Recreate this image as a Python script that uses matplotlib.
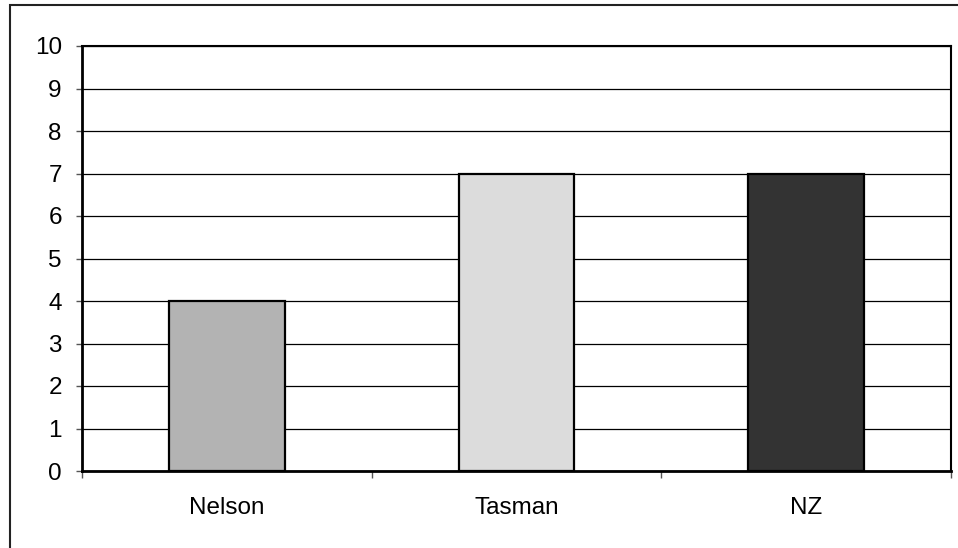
"""Bar chart: Nelson / Tasman / NZ."""
import matplotlib
matplotlib.use('Agg')
import matplotlib.pyplot as plt
import matplotlib.patches as mpatches

categories = ["Nelson", "Tasman", "NZ"]
values = [4, 7, 7]
bar_colors = ["#b3b3b3", "#dcdcdc", "#333333"]
y_ticks = list(range(0, 11))

plt.rcParams['font.family'] = ['Liberation Sans', 'DejaVu Sans']

W, H = 958, 548
fig = plt.figure(figsize=(W / 100, H / 100), dpi=100)
fig.patch.set_facecolor('white')

# outer chart border (runs off right/bottom edges)
fig.patches.append(mpatches.Rectangle((10 / W, -0.05), 1.1, 1 - 5 / H + 0.05,
                                      transform=fig.transFigure, fill=False,
                                      edgecolor='#222222', linewidth=1.5))

ax = fig.add_axes([82 / W, 1 - 471 / H, (951 - 82) / W, (471 - 46) / H])
x = range(len(categories))
ax.bar(x, values, width=0.40, color=bar_colors, edgecolor='black',
       linewidth=1.6, zorder=3)

ax.set_xlim(-0.5, len(categories) - 0.5)
ax.set_ylim(0, 10)
ax.set_yticks(y_ticks)
ax.set_yticklabels([str(t) for t in y_ticks], fontsize=17.5)
ax.yaxis.grid(True, color='black', linewidth=0.9, zorder=0)
ax.set_axisbelow(True)

# category labels centred, ticks at boundaries
ax.set_xticks([i + 0.5 for i in range(-1, len(categories))])
ax.set_xticklabels([])
ax.set_xticks(list(x), minor=True)
ax.set_xticklabels(categories, minor=True, fontsize=17.5)
ax.tick_params(axis='x', which='minor', length=0, pad=19)
ax.tick_params(axis='x', which='major', length=5, width=1, color='#555555')
ax.tick_params(axis='y', length=4.5, width=1, color='#555555', pad=10)

for s in ax.spines.values():
    s.set_color('black')
    s.set_linewidth(1.5)
ax.spines['left'].set_linewidth(2)
ax.spines['bottom'].set_linewidth(2)

fig.savefig('out.png', dpi=100)
